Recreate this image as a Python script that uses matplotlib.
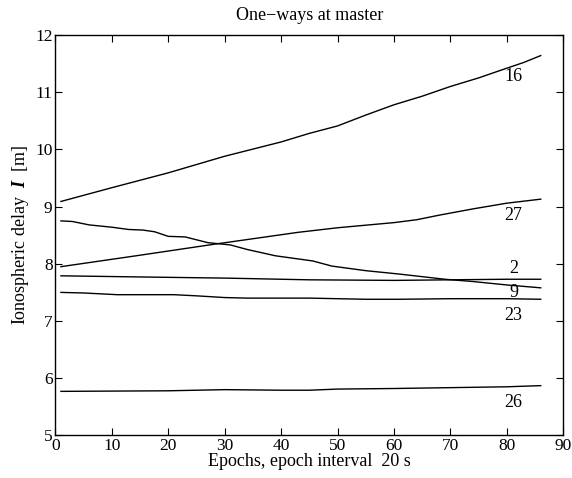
"""
One-way ionospheric delays at the master receiver, per satellite
"""

import matplotlib.pyplot as plt

plt.rcParams['font.family'] = ['Liberation Serif', 'DejaVu Serif']
plt.rcParams['mathtext.fontset'] = 'custom'
plt.rcParams['mathtext.rm'] = 'Liberation Serif'
plt.rcParams['mathtext.it'] = 'Liberation Serif:italic'
plt.rcParams['mathtext.bf'] = 'Liberation Serif:bold:italic'

# Satellite 16
ep16 = [1, 10, 20, 30, 40, 45, 50, 55, 60, 65, 70, 75, 80, 83, 86]
val16 = [9.09, 9.33, 9.59, 9.88, 10.13, 10.28, 10.41, 10.60, 10.78, 10.93, 11.10, 11.25, 11.42, 11.52, 11.64]

# Satellite 27
ep27 = [1, 15, 28, 43, 50, 60, 64, 68, 74, 80, 86]
val27 = [7.95, 8.15, 8.34, 8.55, 8.63, 8.72, 8.77, 8.85, 8.96, 9.06, 9.13]

# Satellite 2
ep2 = [1, 15, 30, 45, 60, 70, 80, 86]
val2 = [7.79, 7.77, 7.75, 7.72, 7.71, 7.72, 7.73, 7.73]

# Satellite 9
ep9 = [1, 3, 6, 10, 13, 15.5, 17.6, 20, 23, 27, 31, 34, 39, 45.6, 49, 55, 61, 69, 74, 80, 86]
val9 = [8.75, 8.74, 8.68, 8.64, 8.60, 8.59, 8.56, 8.48, 8.47, 8.37, 8.33, 8.25, 8.14, 8.05, 7.96, 7.88, 7.82, 7.73, 7.69, 7.63, 7.58]

# Satellite 23
ep23 = [1, 5, 11, 21, 25, 30, 34, 45, 55, 61, 70, 80, 86]
val23 = [7.50, 7.49, 7.46, 7.46, 7.44, 7.41, 7.40, 7.40, 7.38, 7.38, 7.39, 7.39, 7.38]

# Satellite 26
ep26 = [1, 20, 30, 40, 45, 50, 60, 80, 86]
val26 = [5.77, 5.78, 5.80, 5.79, 5.79, 5.81, 5.82, 5.85, 5.87]

# Label positions for each satellite
sat_names = ["16", "27", "2", "9", "23", "26"]
label_y = [11.27, 8.84, 7.92, 7.50, 7.10, 5.58]

fig = plt.figure(figsize=(5.72, 4.78), dpi=100)
ax = fig.add_axes([0.0967, 0.0891, 0.8881, 0.8377])

for ep, val in [(ep16, val16), (ep27, val27), (ep2, val2),
                (ep9, val9), (ep23, val23), (ep26, val26)]:
    ax.plot(ep, val, color='black', linewidth=1.0)

for name, y in zip(sat_names, label_y):
    ax.text(81.2, y, name, fontsize=13, ha='center', va='center')

ax.set_xlim(0, 90)
ax.set_ylim(5, 12)
ax.set_xticks(range(0, 91, 10))
ax.set_yticks(range(5, 13))
ax.tick_params(direction='in', top=True, right=True, length=5, labelsize=12.5, pad=2)
for s in ax.spines.values():
    s.set_linewidth(1.0)

ax.set_title("One\u2212ways at master", fontsize=13, pad=11)
ax.set_xlabel("Epochs, epoch interval  20 s", fontsize=13, labelpad=-1)
ax.set_ylabel(r"Ionospheric delay  $\mathbf{I}$  [m]", fontsize=13, labelpad=3)

fig.savefig("out.png", dpi=100)
